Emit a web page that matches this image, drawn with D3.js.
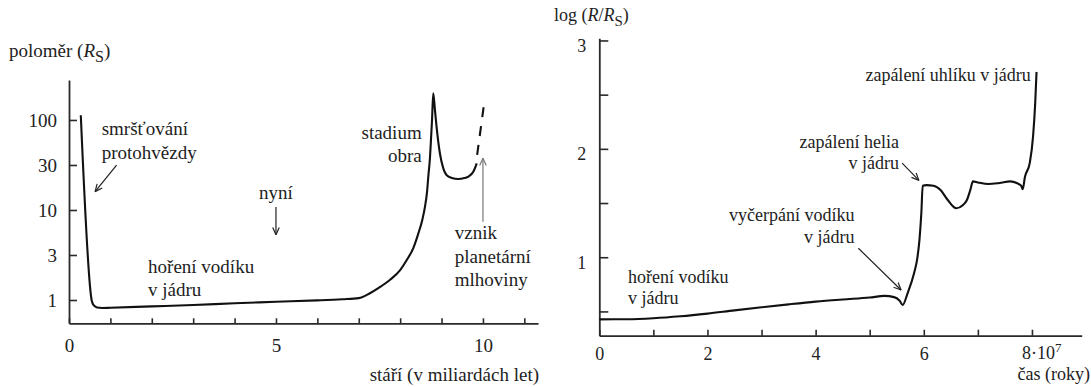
<!DOCTYPE html>
<html><head><meta charset="utf-8">
<script src="https://cdn.jsdelivr.net/npm/d3@7"></script>
<style>
html,body{margin:0;padding:0;background:#fff;}
svg{display:block;}
text, tspan{font-family:"Liberation Serif","Times New Roman",Tinos,"DejaVu Serif",serif !important;fill:#222;}
</style>
</head><body>
<svg id="chart" width="1091" height="387"></svg>
<script>
// ---------- DATA ----------
// Left panel: radius of the Sun (R_S) vs age (Gyr)
const sunAge    = [0.285,0.55,0.6,0.68,0.8,1.0,2,3,4,5,6,6.6,7.0,7.27,7.5,7.75,8.0,8.16,8.32,8.44,8.53,8.6,8.65,8.68,8.72,8.74,8.77,8.8,8.84,8.88,8.96,9.03,9.12,9.25,9.4,9.55,9.65,9.77,9.85];
const sunRadius = [113,0.98,0.87,0.825,0.815,0.82,0.85,0.88,0.92,0.955,0.99,1.02,1.05,1.19,1.38,1.67,2.15,2.78,3.8,5.5,7.6,10.9,16,23.5,38,55,100,198,130,84,42.7,30.3,24.5,22.7,22.1,22.6,23.5,26.7,33];
// dashed continuation (planetary nebula)
const nebulaAge    = [9.86, 10.03];
const nebulaRadius = [41, 154.5];
const leftXTicks = [0,1,2,3,4,5,6,7,8,9,10,11];
const leftXLabelValues = [0,5,10];
const leftYTickValues = [1, 3.162, 10, 31.62, 100];
const leftYTickLabels = ["1","3","10","30","100"];

// Right panel: log(R/R_S) vs time (units of 10^7 years)
const starTime = [0,0.5,1,1.5,2,2.5,3,3.5,4,4.5,5,5.27,5.45,5.55,5.61,5.7,5.82,5.88,5.92,5.955,5.98,6.05,6.18,6.31,6.44,6.6,6.72,6.8,6.86,6.91,7.0,7.2,7.4,7.6,7.72,7.8,7.83,7.87,7.96,8.02,8.06,8.085];
const starLogR = [0.427,0.428,0.437,0.455,0.48,0.51,0.538,0.565,0.59,0.61,0.628,0.643,0.632,0.6,0.56,0.667,0.852,0.99,1.16,1.41,1.66,1.665,1.66,1.62,1.53,1.452,1.48,1.53,1.62,1.70,1.69,1.675,1.685,1.70,1.685,1.66,1.628,1.74,1.87,2.11,2.42,2.71];
const rightXTicks = [0,1,2,3,4,5,6,7,8];
const rightXLabelValues = [0,2,4,6,8];
const rightYTicks = [0.5,1,1.5,2,2.5,3];
const rightYLabelValues = [1,2,3];

// ---------- DRAW ----------
const svg = d3.select("#chart");
svg.append("rect").attr("width",1091).attr("height",387).attr("fill","#fff");
const INK = "#111", AX = "#2a2a2a";
const FONT = "'Liberation Serif','Times New Roman',Tinos,'DejaVu Serif',serif";

function arrow(g, x1, y1, x2, y2, color) {
  g.append("line").attr("x1",x1).attr("y1",y1).attr("x2",x2).attr("y2",y2)
    .attr("stroke",color).attr("stroke-width",1.2);
  const ang = Math.atan2(y2-y1, x2-x1), L = 8, a = 0.42;
  [-1,1].forEach(s => {
    g.append("line").attr("x1",x2).attr("y1",y2)
      .attr("x2", x2 - L*Math.cos(ang + s*a)).attr("y2", y2 - L*Math.sin(ang + s*a))
      .attr("stroke",color).attr("stroke-width",1.2);
  });
}
function textBlock(g, x, y, lines, anchor, size, lh) {
  lines.forEach((t,i) => g.append("text").attr("x",x).attr("y",y+i*lh).attr("dy","0.33em")
    .attr("text-anchor",anchor).attr("font-family",FONT).style("font-size",size+"px").text(t));
}
function styleAxis(sel, size) {
  sel.attr("font-family",FONT);
  sel.selectAll(".domain").attr("stroke",AX).attr("stroke-width",1.8);
  sel.selectAll(".tick line").attr("stroke",AX).attr("stroke-width",1.6);
  sel.selectAll(".tick text").style("font-size",size+"px").attr("fill","#222");
}

// ===== Left panel =====
const xL = d3.scaleLinear().domain([0, 11.33]).range([69, 538]);
const yL = d3.scaleLog().domain([0.551, 278]).range([323.3, 80]);
const gL = svg.append("g").attr("font-family",FONT);

const axL = gL.append("g").attr("transform","translate(0,323.3)")
  .call(d3.axisBottom(xL).tickValues(leftXTicks).tickSizeInner(-5).tickSizeOuter(0).tickPadding(15)
    .tickFormat(d => leftXLabelValues.includes(d) ? String(d) : ""));
styleAxis(axL, 19);
const ayL = gL.append("g").attr("transform","translate(69,0)")
  .call(d3.axisLeft(yL).tickValues(leftYTickValues).tickSizeInner(-8).tickSizeOuter(0).tickPadding(12)
    .tickFormat((d,i) => leftYTickLabels[i]));
styleAxis(ayL, 19);

const sunPts = sunAge.map((a,i) => [a, sunRadius[i]]);
gL.append("path").datum(sunPts)
  .attr("d", d3.line().x(d=>xL(d[0])).y(d=>yL(d[1])).curve(d3.curveMonotoneX))
  .attr("fill","none").attr("stroke",INK).attr("stroke-width",2.1).attr("stroke-linejoin","round");
const nebPts = nebulaAge.map((a,i) => [a, nebulaRadius[i]]);
gL.append("path").datum(nebPts)
  .attr("d", d3.line().x(d=>xL(d[0])).y(d=>yL(d[1])))
  .attr("fill","none").attr("stroke",INK).attr("stroke-width",2.1).attr("stroke-dasharray","10,9");

// left titles
const tL = gL.append("text").attr("x",9).attr("y",57).style("font-size","19px");
tL.append("tspan").text("poloměr (");
tL.append("tspan").style("font-style","italic").text("R");
tL.append("tspan").attr("dy",5).style("font-size","16px").text("S");
tL.append("tspan").attr("dy",-5).text(")");
gL.append("text").attr("x",539).attr("y",381).attr("text-anchor","end").style("font-size","19px").text("stáří (v miliardách let)");

// left annotations
textBlock(gL, xL(0.79), yL(79.4), ["smršťování","protohvězdy"], "start", 19, 24);
arrow(gL, xL(1.15), yL(31.6), xL(0.63), yL(16), "#222");
textBlock(gL, xL(5), yL(15.5), ["nyní"], "middle", 19, 24);
arrow(gL, xL(5), yL(10.8), xL(5), yL(5.3), "#222");
textBlock(gL, xL(1.91), yL(2.33), ["hoření vodíku","v jádru"], "start", 19, 23);
textBlock(gL, xL(8.52), yL(71.7), ["stadium","obra"], "end", 19, 23);
textBlock(gL, xL(9.32), yL(5.55), ["vznik","planetární","mlhoviny"], "start", 19, 23.5);
arrow(gL, xL(10), yL(7.4), xL(10), yL(37.5), "#777");

// ===== Right panel =====
const xR = d3.scaleLinear().domain([0, 8.92]).range([599.3, 1081.7]);
const yR = d3.scaleLinear().domain([0.276, 3.02]).range([335.7, 38.3]);
const gR = svg.append("g").attr("font-family",FONT);

const axR = gR.append("g").attr("transform","translate(0,335.7)")
  .call(d3.axisBottom(xR).tickValues(rightXTicks).tickSizeInner(-6).tickSizeOuter(0).tickPadding(11.5)
    .tickFormat(d => (rightXLabelValues.includes(d) && d !== 8) ? String(d) : ""));
styleAxis(axR, 18);
// last label 8·10^7
const lab8 = gR.append("text").attr("x", xR(8) - 10).attr("y", 359).style("font-size","18px");
lab8.append("tspan").text("8·10");
lab8.append("tspan").attr("dy",-7).style("font-size","13px").text("7");

const ayR = gR.append("g").attr("transform","translate(599.3,0)")
  .call(d3.axisLeft(yR).tickValues(rightYTicks).tickSizeInner(-9).tickSizeOuter(0).tickPadding(13)
    .tickFormat(d => rightYLabelValues.includes(d) ? String(d) : ""));
styleAxis(ayR, 18);
ayR.selectAll(".tick text").attr("dy","0.6em");

const starPts = starTime.map((t,i) => [t, starLogR[i]]);
gR.append("path").datum(starPts)
  .attr("d", d3.line().x(d=>xR(d[0])).y(d=>yR(d[1])).curve(d3.curveMonotoneX))
  .attr("fill","none").attr("stroke",INK).attr("stroke-width",2.1).attr("stroke-linejoin","round");

// right titles
const tR = gR.append("text").attr("x",554).attr("y",21).style("font-size","18px");
tR.append("tspan").text("log (");
tR.append("tspan").style("font-style","italic").text("R");
tR.append("tspan").text("/");
tR.append("tspan").style("font-style","italic").text("R");
tR.append("tspan").attr("dy",5).style("font-size","15px").text("S");
tR.append("tspan").attr("dy",-5).text(")");
gR.append("text").attr("x",1090).attr("y",380).attr("text-anchor","end").style("font-size","18px").text("čas (roky)");

// right annotations
textBlock(gR, xR(0.53), yR(0.82), ["hoření vodíku","v jádru"], "start", 18, 21.6);
textBlock(gR, xR(4.72), yR(1.39), ["vyčerpání vodíku","v jádru"], "end", 18, 21.7);
arrow(gR, xR(4.79), yR(1.083), xR(5.58), yR(0.698), "#222");
textBlock(gR, xR(5.54), yR(2.067), ["zapálení helia","v jádru"], "end", 18, 21.6);
arrow(gR, xR(5.60), yR(1.868), xR(5.91), yR(1.709), "#222");
textBlock(gR, xR(7.98), yR(2.683), ["zapálení uhlíku v jádru"], "end", 18, 21.6);
</script>
</body></html>
